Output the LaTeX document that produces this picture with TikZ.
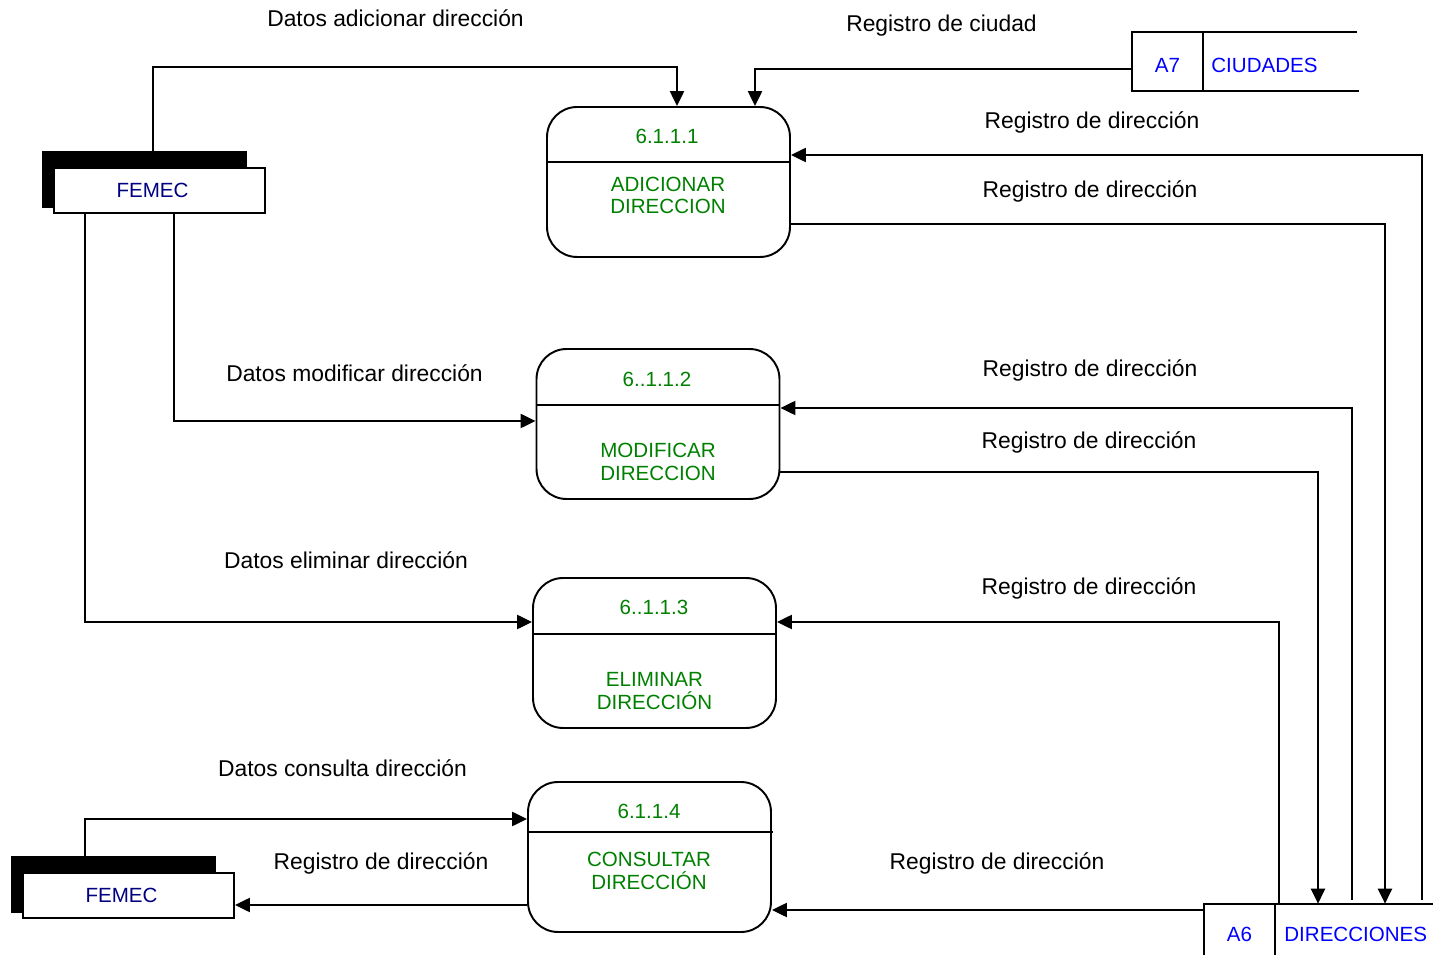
\documentclass[tikz,border=0pt]{standalone}
\usepackage{fontspec}
\setmainfont{Liberation Sans}
\usetikzlibrary{arrows.meta}

\definecolor{procgreen}{RGB}{0,128,0}
\definecolor{entnavy}{RGB}{0,0,128}
\definecolor{storeblue}{RGB}{0,0,255}

\tikzset{
	proc/.style={draw, rounded corners=0.6cm, line width=1.1pt, minimum width=4.86cm, minimum height=3cm, inner sep=0pt},
	num/.style={font=\fontsize{11.7}{13}\selectfont, text=procgreen, inner sep=0pt, text height=8.4pt, text depth=0pt},
	pname/.style={font=\fontsize{11.7}{13}\selectfont, text=procgreen, align=center, inner sep=0pt},
	entshadow/.style={fill=black, minimum width=4.1cm, minimum height=1.14cm, inner sep=0pt},
	ent/.style={draw, fill=white, line width=1.1pt, minimum width=4.22cm, minimum height=0.9cm, inner sep=0pt,
		font=\fontsize{11.7}{13}\selectfont, text=entnavy},
	store/.style={minimum width=1.42cm, minimum height=1.18cm, inner sep=0pt,
		font=\fontsize{11.7}{13}\selectfont, text=storeblue},
	storetxt/.style={inner sep=0pt, font=\fontsize{11.7}{13}\selectfont, text=storeblue, text height=8.4pt, text depth=0pt},
	lbl/.style={inner sep=0pt, font=\fontsize{13}{15}\selectfont, text height=9.3pt, text depth=0pt},
	flow/.style={line width=1.1pt, -{Triangle[length=8.5pt,width=8pt]}}
}

\begin{document}
\begin{tikzpicture}[x=0.02cm, y=-0.02cm]

	\useasboundingbox (0,0) rectangle (1433,955);

	% procesos
	\node (p1) [proc] at (668.5,182) {};
	\node (p2) [proc] at (658,424) {};
	\node (p3) [proc] at (654.5,653) {};
	\node (p4) [proc] at (649.5,857) {};

	\draw[line width=1.1pt] (p1.west |- 0,162) -- (p1.east |- 0,162);
	\draw[line width=1.1pt] (p2.west |- 0,405) -- (p2.east |- 0,405);
	\draw[line width=1.1pt] (p3.west |- 0,634) -- (p3.east |- 0,634);
	\draw[line width=1.1pt] (p4.west |- 0,832) -- (773,832);

	\node (n1) [num] at (667,136) {6.1.1.1};
	\node (n2) [num] at (657,379) {6..1.1.2};
	\node (n3) [num] at (654,607) {6..1.1.3};
	\node (n4) [num] at (649,811) {6.1.1.4};

	\node (t1) [pname] at (668,195.5) {ADICIONAR\\DIRECCION};
	\node (t2) [pname] at (658,462) {MODIFICAR\\DIRECCION};
	\node (t3) [pname] at (654.5,691) {ELIMINAR\\DIRECCIÓN};
	\node (t4) [pname] at (649,870.5) {CONSULTAR\\DIRECCIÓN};

	% entidades
	\node (s1) [entshadow] at (144.5,179.5) {};
	\node (f1) [ent] at (159.5,190.5) {\hspace*{-0.28cm}FEMEC};
	\node (s2) [entshadow] at (113.5,884.5) {};
	\node (f2) [ent] at (128.5,895.5) {\hspace*{-0.28cm}FEMEC};

	% almacenes
	\node (a7) [store, text height=12.4pt, text depth=0pt] at (1167.5,61.5) {A7};
	\node (c7) [storetxt, anchor=west] at (1211,65) {CIUDADES};
	\draw[line width=1.1pt] (1357,0 |- a7.north) -- (a7.north west) -- (a7.south west) -- (1359,0 |- a7.south);
	\draw[line width=1.1pt] (a7.north east) -- (a7.south east);

	\node (a6) [store, minimum height=1.2cm] at (1239.5,934) {A6};
	\node (c6) [storetxt, anchor=west] at (1284,934) {DIRECCIONES};
	\draw[line width=1.1pt] (1433,0 |- a6.north) -- (a6.north west) -- (a6.south west);
	\draw[line width=1.1pt] (a6.north east) -- (a6.south east);

	% flujos
	\draw[flow] (153,0 |- s1.north) |- (677,67) -- (677,0 |- p1.north);
	\draw[flow] (a7.west |- 0,69) -| (755,0 |- p1.north);
	\draw[flow] (1422,900) |- (p1.east |- 0,155);
	\draw[flow] (p1.east |- 0,224) -| (1385,0 |- a6.north);
	\draw[flow] (1352,900) |- (p2.east |- 0,408);
	\draw[flow] (p2.east |- 0,472) -| (1318,0 |- a6.north);
	\draw[flow] (1279,0 |- a6.north) |- (p3.east |- 0,622);
	\draw[flow] (a6.west |- 0,910) -- (p4.east |- 0,910);
	\draw[flow] (174,0 |- f1.south) |- (p2.west |- 0,421);
	\draw[flow] (85,0 |- f1.south) |- (p3.west |- 0,622);
	\draw[flow] (85,0 |- s2.north) |- (p4.west |- 0,819);
	\draw[flow] (p4.west |- 0,905) -- (f2.east |- 0,905);

	% etiquetas
	\node (d1) [lbl] at (395.5,18) {Datos adicionar dirección};
	\node (d2) [lbl] at (354.5,373) {Datos modificar dirección};
	\node (d3) [lbl] at (346,560) {Datos eliminar dirección};
	\node (d4) [lbl] at (342.5,768) {Datos consulta dirección};
	\node (r0) [lbl] at (941.5,23) {Registro de ciudad};
	\node (r1) [lbl] at (1092,120) {Registro de dirección};
	\node (r2) [lbl] at (1090,189) {Registro de dirección};
	\node (r3) [lbl] at (1090,368) {Registro de dirección};
	\node (r4) [lbl] at (1089,440) {Registro de dirección};
	\node (r5) [lbl] at (1089,586) {Registro de dirección};
	\node (r6) [lbl] at (997,861) {Registro de dirección};
	\node (r7) [lbl] at (381,861) {Registro de dirección};

\end{tikzpicture}
\end{document}
